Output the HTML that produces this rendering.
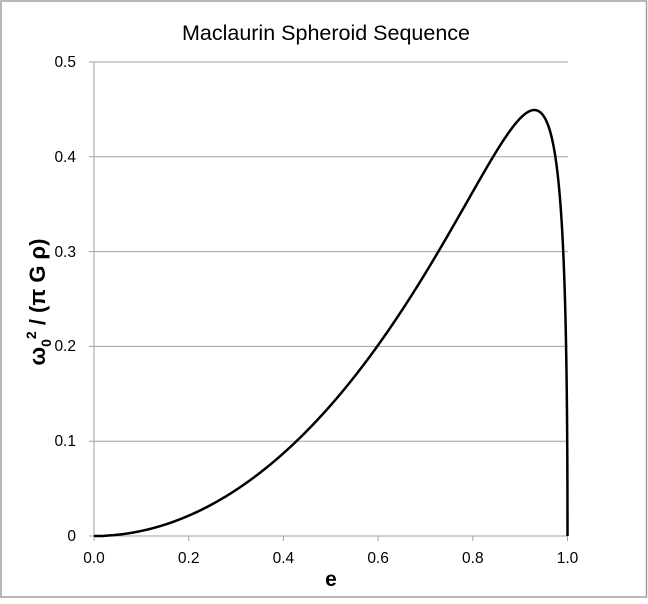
<!DOCTYPE html>
<html><head><style>
body{margin:0;background:#fff}
svg text{font-family:"Liberation Sans",sans-serif}
</style></head><body>
<svg width="648" height="599" xmlns="http://www.w3.org/2000/svg">
<rect x="1" y="1" width="645.5" height="596" fill="#fff" stroke="#a0a0a0" stroke-width="1.5"/>
<text x="326" y="40" font-size="21.5" text-anchor="middle">Maclaurin Spheroid Sequence</text>
<g stroke="#a0a0a0" stroke-width="1">
<line x1="89" y1="62" x2="568" y2="62"/>
<line x1="89" y1="156.8" x2="568" y2="156.8"/>
<line x1="89" y1="251.6" x2="568" y2="251.6"/>
<line x1="89" y1="346.4" x2="568" y2="346.4"/>
<line x1="89" y1="441.2" x2="568" y2="441.2"/>
<line x1="89" y1="536" x2="568" y2="536"/>
<line x1="94" y1="62" x2="94" y2="536"/>
<line x1="94" y1="536" x2="94" y2="541"/>
<line x1="188.7" y1="536" x2="188.7" y2="541"/>
<line x1="283.4" y1="536" x2="283.4" y2="541"/>
<line x1="378.1" y1="536" x2="378.1" y2="541"/>
<line x1="472.8" y1="536" x2="472.8" y2="541"/>
<line x1="567.5" y1="536" x2="567.5" y2="541"/>
</g>
<g font-size="15.5" text-anchor="end">
<text x="76" y="67">0.5</text>
<text x="76" y="162">0.4</text>
<text x="76" y="257">0.3</text>
<text x="76" y="351">0.2</text>
<text x="76" y="446">0.1</text>
<text x="76" y="541">0</text>
</g>
<g font-size="15.5" text-anchor="middle">
<text x="94" y="563">0.0</text>
<text x="188.7" y="563">0.2</text>
<text x="283.4" y="563">0.4</text>
<text x="378.1" y="563">0.6</text>
<text x="472.8" y="563">0.8</text>
<text x="567.5" y="563">1.0</text>
</g>
<text x="331" y="586" font-size="21" font-weight="bold" text-anchor="middle">e</text>
<text transform="translate(45,302) rotate(-90)" font-size="22" font-weight="bold" text-anchor="middle">ω<tspan font-size="14" dy="6">0</tspan><tspan font-size="14" dy="-15">2</tspan><tspan dy="9"> / (π G ρ)</tspan></text>
<path id="c" fill="none" stroke="#000" stroke-width="2.5"/>
</svg>
<script>
var d="";
function f(e){if(e<1e-4)return 0;var s=Math.sqrt(1-e*e);return 2*s/(e*e*e)*(3-2*e*e)*Math.asin(e)-6*(1-e*e)/(e*e);}
var N=800;
for(var i=0;i<=N;i++){var t=i/N;var e=1-Math.pow(1-t,2);if(i==N)e=1;var v=e>=1?0:f(Math.max(e,0.001));if(e<0.02)v=0.0;var x=94+e*473.5,y=536-v*948;d+=(i?"L":"M")+x.toFixed(2)+" "+y.toFixed(2);}
document.getElementById("c").setAttribute("d",d);
</script>
</body></html>
